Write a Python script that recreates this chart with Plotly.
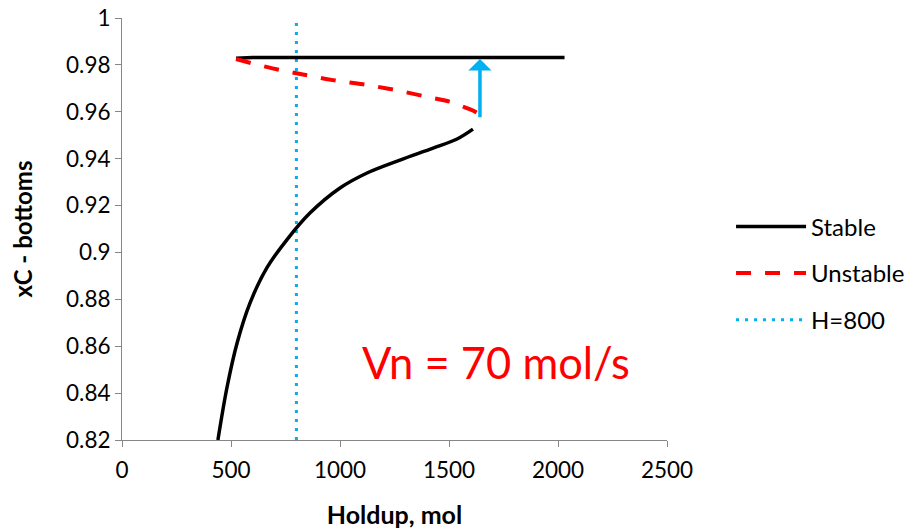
import plotly.graph_objects as go

# Data
stable_low_x = [440, 482, 528, 587, 665, 757, 862, 1000, 1124, 1275, 1427, 1537, 1610]
stable_low_y = [0.82, 0.8426, 0.8614, 0.8784, 0.8935, 0.9055, 0.9168, 0.9275, 0.9339, 0.9394, 0.9445, 0.9484, 0.9526]

stable_high_x = [523, 600, 1000, 1500, 2030]
stable_high_y = [0.9828, 0.9832, 0.9832, 0.9832, 0.9832]

unstable_x = [523, 690, 830, 968, 1106, 1252, 1399, 1505, 1573, 1620, 1640, 1642]
unstable_y = [0.9825, 0.9785, 0.9759, 0.9735, 0.9717, 0.9693, 0.9664, 0.9643, 0.9619, 0.9600, 0.9585, 0.9565]

h_line_x = [800, 800]
h_line_y = [0.82, 1.0]

arrow_x = 1642
arrow_from_y = 0.957
arrow_to_y = 0.9825

x_ticks = [0, 500, 1000, 1500, 2000, 2500]
y_ticks = [0.82, 0.84, 0.86, 0.88, 0.9, 0.92, 0.94, 0.96, 0.98, 1.0]
y_tick_text = ["0.82", "0.84", "0.86", "0.88", "0.9", "0.92", "0.94", "0.96", "0.98", "1"]

FONT = "Lato"
CYAN = "#00B0F0"

fig = go.Figure()

fig.add_trace(go.Scatter(
    x=h_line_x, y=h_line_y, mode="lines", name="H=800",
    line=dict(color=CYAN, width=3, dash="3px,6px"),
    legendgroup="c", legendrank=3,
))
fig.add_trace(go.Scatter(
    x=stable_low_x, y=stable_low_y, mode="lines", name="Stable",
    line=dict(color="black", width=3.5, shape="spline", smoothing=1.0),
    legendgroup="a", legendrank=1,
))
fig.add_trace(go.Scatter(
    x=stable_high_x, y=stable_high_y, mode="lines", name="Stable",
    line=dict(color="black", width=3.5),
    legendgroup="a", showlegend=False,
))
fig.add_trace(go.Scatter(
    x=unstable_x, y=unstable_y, mode="lines", name="Unstable",
    line=dict(color="red", width=4, dash="15px,14px", shape="spline"),
    legendgroup="b", legendrank=2,
))

fig.add_annotation(
    x=arrow_x, y=arrow_to_y, ax=arrow_x, ay=arrow_from_y,
    xref="x", yref="y", axref="x", ayref="y",
    showarrow=True, arrowhead=1, arrowsize=1.1, arrowwidth=3.5, arrowcolor=CYAN,
    text="",
)

fig.add_annotation(
    x=1716, y=0.8533, xref="x", yref="y", text="Vn = 70 mol/s",
    showarrow=False, font=dict(family=FONT, size=43.5, color="red"),
)

fig.update_layout(
    template="none",
    width=913, height=530,
    margin=dict(l=122, r=246, t=18, b=90),
    paper_bgcolor="white", plot_bgcolor="white",
    font=dict(family=FONT, size=22, color="black"),
    legend=dict(
        xref="container", x=0.8007, y=0.395, xanchor="left", yanchor="middle",
        font=dict(family=FONT, size=24, color="black"),
        tracegroupgap=12.5, itemwidth=70,
        bgcolor="rgba(0,0,0,0)",
    ),
    showlegend=True,
)

fig.update_xaxes(
    range=[0, 2500], tickvals=x_ticks, automargin=False,
    showline=True, linecolor="#868686", linewidth=1,
    ticks="outside", ticklen=6, tickcolor="#868686",
    showgrid=False, zeroline=False, ticklabelstandoff=4,
    tickfont=dict(family=FONT, size=22.5),
    title=dict(text="<b>Holdup, mol</b>", font=dict(family=FONT, size=25), standoff=24),
)
fig.update_yaxes(
    range=[0.82, 1.0], tickvals=y_ticks, ticktext=y_tick_text, automargin=False,
    showline=True, linecolor="#868686", linewidth=1,
    ticks="outside", ticklen=6, tickcolor="#868686",
    showgrid=False, zeroline=False,
    tickfont=dict(family=FONT, size=22.5),
    title=dict(text="<b>xC - bottoms</b>", font=dict(family=FONT, size=24), standoff=26),
)

fig.write_html("out.html")
